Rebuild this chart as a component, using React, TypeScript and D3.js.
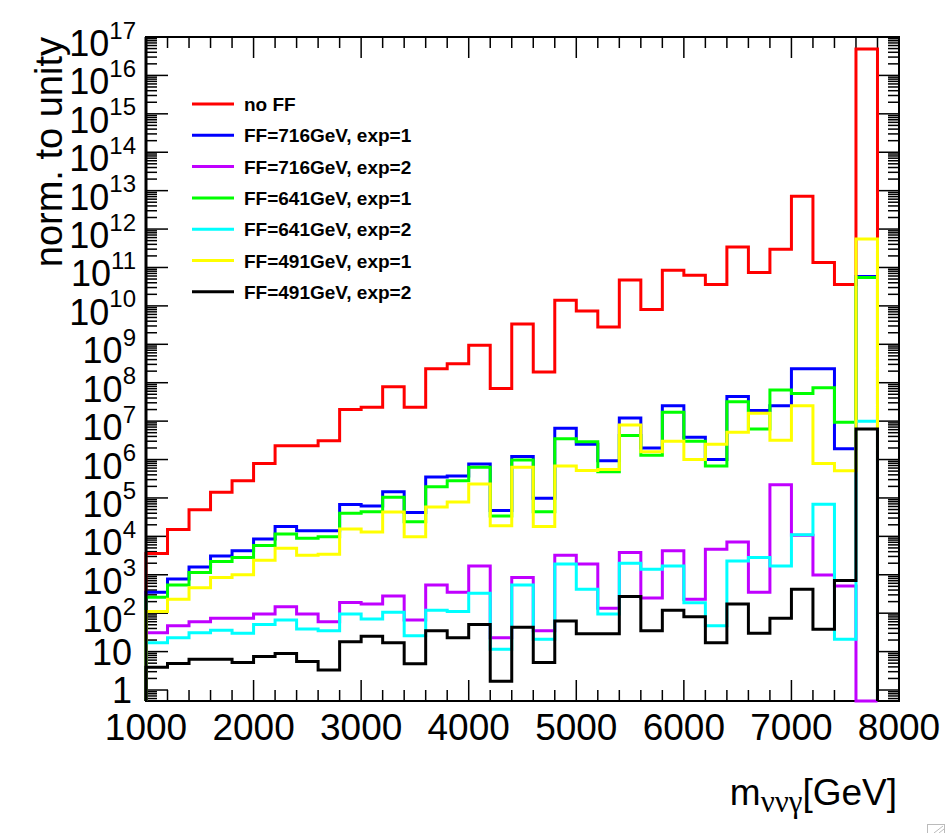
import React from 'react';
import * as d3 from 'd3';

// bin lower edges, 200 GeV wide, 1000..7600
const binEdges = [
  1000, 1200, 1400, 1600, 1800, 2000, 2200, 2400, 2600, 2800,
  3000, 3200, 3400, 3600, 3800, 4000, 4200, 4400, 4600, 4800,
  5000, 5200, 5400, 5600, 5800, 6000, 6200, 6400, 6600, 6800,
  7000, 7200, 7400, 7600,
];
const binWidth = 200;

const noFF = [
  3.6e3, 1.5e4, 4.9e4, 1.4e5, 2.8e5, 7.9e5, 2.3e6, 2.3e6, 3.1e6, 2.0e7,
  2.3e7, 7.9e7, 2.3e7, 2.3e8, 3.1e8, 9.5e8, 7.1e7, 3.4e9, 1.9e8, 1.4e10,
  7.4e9, 2.8e9, 4.7e10, 8.1e9, 8.5e10, 6.3e10, 3.6e10, 3.4e11, 7.4e10, 3.0e11,
  7.2e12, 1.35e11, 3.6e10, 4.9e16,
];
const ff716exp1 = [
  3.5e2, 7.8e2, 1.6e3, 3.1e3, 4.2e3, 8.5e3, 1.8e4, 1.4e4, 1.4e4, 6.8e4,
  6.2e4, 1.45e5, 4.2e4, 3.5e5, 3.7e5, 7.6e5, 4.7e4, 1.2e6, 9.8e4, 6.5e6,
  2.5e6, 9.3e5, 1.2e7, 2.0e6, 2.5e7, 3.8e6, 1.0e6, 4.4e7, 1.9e7, 2.5e7,
  2.3e8, 2.3e8, 1.9e6, 5.8e10,
];
const ff716exp2 = [
  31, 47, 60, 74, 74, 95, 148, 95, 60, 190,
  174, 280, 66, 540, 350, 1.7e3, 23, 850, 35, 3.2e3,
  1.9e3, 135, 3.8e3, 250, 4.2e3, 230, 4.6e3, 7.1e3, 350, 2.2e5,
  1.07e4, 980, 510, 0,
];
const ff641exp1 = [
  2.6e2, 5.4e2, 1.15e3, 2.2e3, 2.8e3, 5.8e3, 1.15e4, 8.9e3, 9.8e3, 4.0e4,
  4.4e4, 1.05e5, 2.4e4, 1.95e5, 2.8e5, 6.3e5, 3.4e4, 9.8e5, 4.4e4, 3.5e6,
  2.9e6, 4.8e5, 4.2e6, 1.3e6, 1.7e7, 3.0e6, 6.8e5, 3.2e7, 6.2e6, 6.5e7,
  5.2e7, 7.4e7, 9.3e6, 5.5e10,
];
const ff641exp2 = [
  17, 23, 31, 36, 30, 51, 66, 39, 35, 95,
  71, 105, 26, 120, 110, 330, 11.5, 540, 21, 1.9e3,
  420, 95, 2.0e3, 1.4e3, 1.7e3, 186, 47, 2.3e3, 2.8e3, 1.7e3,
  1.1e4, 6.9e4, 21, 1.0e7,
];
const ff491exp1 = [
  1.1e2, 2.3e2, 4.6e2, 8.5e2, 1.0e3, 2.4e3, 4.9e3, 3.2e3, 3.4e3, 1.55e4,
  1.3e4, 4.3e4, 9.8e3, 5.8e4, 7.9e4, 2.3e5, 1.9e4, 6.3e5, 1.8e4, 6.8e5,
  5.2e5, 5.5e5, 7.9e6, 1.6e6, 3.0e6, 1.0e6, 2.5e6, 5.1e6, 1.6e7, 3.2e6,
  2.5e7, 7.9e5, 5.1e5, 5.5e11,
];
const ff491exp2 = [
  3.9, 4.9, 6.3, 6.3, 5.2, 7.4, 8.9, 5.5, 3.3, 18,
  25, 17, 4.8, 35, 23, 51, 1.7, 43, 5.2, 63,
  29, 29, 270, 35, 120, 81, 17, 174, 30, 74,
  420, 38, 710, 6.2e6,
];

const seriesLabels = [
  'no FF',
  'FF=716GeV, exp=1',
  'FF=716GeV, exp=2',
  'FF=641GeV, exp=1',
  'FF=641GeV, exp=2',
  'FF=491GeV, exp=1',
  'FF=491GeV, exp=2',
];
const seriesValues = [noFF, ff716exp1, ff716exp2, ff641exp1, ff641exp2, ff491exp1, ff491exp2];
const seriesColors = ['#ff0000', '#0000ff', '#c000ff', '#00ff00', '#00ffff', '#ffff00', '#000000'];

const xTickLabels = [1000, 2000, 3000, 4000, 5000, 6000, 7000, 8000];
const yDecades = d3.range(0, 18); // 10^0 .. 10^17

const W = 945;
const H = 833;
const frame = { left: 146, right: 899, top: 37, bottom: 701 };
const font = '"Liberation Sans", Arial, Helvetica, sans-serif';

const App: React.FC = () => {
  const x = d3.scaleLinear().domain([1000, 8000]).range([frame.left, frame.right]);
  const yMin = Math.pow(10, -0.286);
  const y = d3.scaleLog().domain([yMin, 1e17]).range([frame.bottom, frame.top]);
  const yPos = (v: number) => (v <= yMin ? frame.bottom : y(v));

  // histogram outline, starting and ending on the frame bottom like ROOT's HIST option
  const histPath = (vals: number[]) => {
    const p = d3.path();
    p.moveTo(x(binEdges[0]), frame.bottom);
    vals.forEach((v, i) => {
      const x0 = x(binEdges[i]);
      const x1 = x(binEdges[i] + binWidth);
      p.lineTo(x0, yPos(v));
      p.lineTo(x1, yPos(v));
    });
    p.lineTo(x(binEdges[binEdges.length - 1] + binWidth), frame.bottom);
    return p.toString();
  };

  const xMinor = d3.range(1000, 8001, 200).filter((v) => v % 1000 !== 0);
  const yMinor: number[] = [];
  for (let d = -1; d < 17; d++) {
    for (let k = 2; k <= 9; k++) {
      const v = k * Math.pow(10, d);
      if (v >= yMin && v <= 1e17) yMinor.push(v);
    }
  }

  const legendTop = 104;
  const legendStep = 31.3;

  return (
    <div style={{ position: 'absolute', left: 0, top: 0 }}>
      <svg width={W} height={H} style={{ display: 'block', background: '#fff' }}>
        <rect x={0} y={0} width={W} height={H} fill="#fff" />

        {/* ticks */}
        <g stroke="#000" strokeWidth={1.5}>
          {xTickLabels.map((t) => (
            <g key={`xt${t}`}>
              <line x1={x(t)} x2={x(t)} y1={frame.bottom} y2={frame.bottom - 21} />
              <line x1={x(t)} x2={x(t)} y1={frame.top} y2={frame.top + 21} />
            </g>
          ))}
          {xMinor.map((t) => (
            <g key={`xm${t}`}>
              <line x1={x(t)} x2={x(t)} y1={frame.bottom} y2={frame.bottom - 11} />
              <line x1={x(t)} x2={x(t)} y1={frame.top} y2={frame.top + 11} />
            </g>
          ))}
          {yDecades.map((d) => {
            const yy = y(Math.pow(10, d));
            return (
              <g key={`yt${d}`}>
                <line x1={frame.left} x2={frame.left + 22} y1={yy} y2={yy} />
                <line x1={frame.right} x2={frame.right - 22} y1={yy} y2={yy} />
              </g>
            );
          })}
          {yMinor.map((v, i) => (
            <g key={`ym${i}`}>
              <line x1={frame.left} x2={frame.left + 11} y1={y(v)} y2={y(v)} />
              <line x1={frame.right} x2={frame.right - 11} y1={y(v)} y2={y(v)} />
            </g>
          ))}
        </g>

        <rect
          x={frame.left}
          y={frame.top}
          width={frame.right - frame.left}
          height={frame.bottom - frame.top}
          fill="none"
          stroke="#000"
          strokeWidth={2}
        />

        {/* histograms */}
        <g fill="none" strokeWidth={3} strokeLinejoin="miter">
          {seriesValues.map((vals, i) => (
            <path key={seriesLabels[i]} d={histPath(vals)} stroke={seriesColors[i]} />
          ))}
        </g>

        {/* left axis line over the first-bin edges */}
        <line x1={frame.left} x2={frame.left} y1={frame.top} y2={frame.bottom} stroke="#000" strokeWidth={3} />

        {/* x labels */}
        <g fontFamily={font} fontSize={37} textAnchor="middle" fill="#000">
          {xTickLabels.map((t) => (
            <text key={`xl${t}`} x={x(t)} y={740}>
              {t}
            </text>
          ))}
        </g>

        {/* y labels */}
        <g fontFamily={font} fill="#000" textAnchor="end">
          {yDecades.map((d) => {
            const yy = y(Math.pow(10, d));
            if (d === 0) {
              return (
                <text key={`yl${d}`} x={132} y={yy + 13} fontSize={36}>
                  1
                </text>
              );
            }
            if (d === 1) {
              return (
                <text key={`yl${d}`} x={132} y={yy + 13} fontSize={36}>
                  10
                </text>
              );
            }
            return (
              <text key={`yl${d}`} x={136} y={yy + 19} fontSize={36}>
                10
                <tspan fontSize={24} dy={-17.5}>
                  {d}
                </tspan>
              </text>
            );
          })}
        </g>

        {/* axis titles */}
        <text
          transform={`translate(62, ${frame.top}) rotate(-90)`}
          fontFamily={font}
          fontSize={38}
          textAnchor="end"
          fill="#000"
        >
          norm. to unity
        </text>
        <text x={897} y={805} fontFamily={font} fontSize={37} textAnchor="end" fill="#000">
          m
          <tspan fontFamily='"Liberation Serif", "DejaVu Serif", serif' fontSize={31} dy={7}>
            ννγ
          </tspan>
          <tspan dy={-7}>[GeV]</tspan>
        </text>

        {/* legend */}
        <g fontFamily={font} fontWeight="bold" fontSize={19} fill="#000">
          {seriesLabels.map((label, i) => {
            const ly = legendTop + i * legendStep;
            return (
              <g key={`lg${label}`}>
                <line x1={192} x2={234} y1={ly} y2={ly} stroke={seriesColors[i]} strokeWidth={3} />
                <text x={244} y={ly + 7}>
                  {label}
                </text>
              </g>
            );
          })}
        </g>

        {/* window resize grip */}
        <g stroke="#bbb" strokeWidth={1} fill="none">
          <rect x={927.5} y={824.5} width={17} height={10} />
          <line x1={934} y1={833} x2={943} y2={826} />
          <line x1={939} y1={833} x2={944} y2={829} />
        </g>
      </svg>
    </div>
  );
};

export default App;
